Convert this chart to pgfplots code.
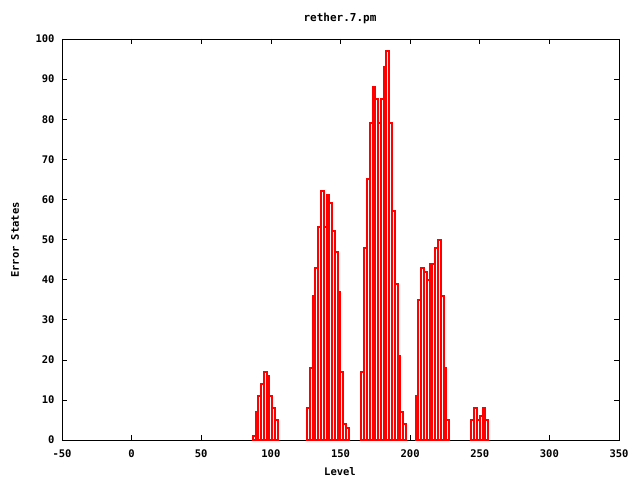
\documentclass[border=0pt]{standalone}
\usepackage{fontspec}
\setmainfont{DejaVu Sans Mono}
\usepackage{pgfplots}
\pgfplotsset{compat=1.18}
\pgfplotstableread{
x y
88 1
90 7
92 11
94 14
96 17
98 16
100 11
102 8
104 5
127 8
129 18
131 36
133 43
135 53
137 62
139 53
141 61
143 59
145 52
147 47
149 37
151 17
153 4
155 3
166 17
168 48
170 65
172 79
174 88
176 85
178 79
180 85
182 93
184 97
186 79
188 57
190 39
192 21
194 7
196 4
205 11
207 35
209 43
211 42
213 40
215 44
217 44
219 48
221 50
223 36
225 18
227 5
245 5
247 8
249 5
251 6
253 8
255 5
}\levels
\begin{document}
\begin{tikzpicture}[x=1pt,y=1pt]
\useasboundingbox (-62,-40) rectangle (578,440);
\begin{axis}[
    at={(0,0)}, anchor=south west,
    scale only axis, width=557pt, height=401pt,
    xmin=-50, xmax=350, ymin=0, ymax=100,
    xtick distance=50, ytick distance=10,
    tick align=inside, major tick length=5pt,
    tick style={black, line width=0.6pt},
    axis line style={line width=0.8pt},
    ticklabel style={font=\bfseries\fontsize{10.5}{12}\selectfont},
    /pgf/number format/assume math mode=true,
    /pgf/number format/set thousands separator={},
    xticklabel style={yshift=-6pt},
    yticklabel style={xshift=-4pt},
]
\addplot[ybar, bar width=2, draw=red, fill=white, line width=2pt] table[x=x, y=y] {\levels};
\end{axis}
\node[font=\bfseries\fontsize{11}{12}\selectfont] at (278,422) {rether.7.pm};
\node[font=\bfseries\fontsize{10.5}{12}\selectfont] at (278,-32) {Level};
\node[font=\bfseries\fontsize{10.5}{12}\selectfont, rotate=90] at (-47,200) {Error States};
\end{tikzpicture}
\end{document}
